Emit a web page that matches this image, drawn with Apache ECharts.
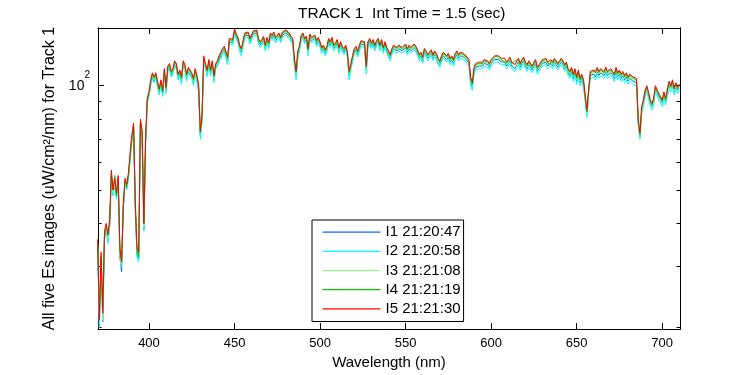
<!DOCTYPE html>
<html><head><meta charset="utf-8">
<script src="https://cdn.jsdelivr.net/npm/echarts@6/dist/echarts.min.js"></script>
<style>html,body{margin:0;padding:0;background:#fff}#c{width:750px;height:375px}</style>
</head><body><div id="c"></div>
<script>
// Wavelength grid: 370 nm .. 710 nm, 1 nm sampling
const wlStart = 370, wlStep = 1;
const seriesNames = ['I1 21:20:47','I2 21:20:58','I3 21:21:08','I4 21:21:19','I5 21:21:30'];
const seriesColors = ['#0070ff','#00ffff','#80ff80','#00cc00','#ff0000'];
const xTicks = [400,450,500,550,600,650,700];
const yMajorTicks = [100];
const yMinorTicks = [20,30,40,50,60,70,80,90];

const I5 = [36,21,33,22,38,40,37,41,57,50,
54,49,55,34,31,46,54,52,56,64,
72,78,46,34,33,80,74,40,70,92,
96,104,109,106,109,103,98,104,97,112,
99,114,116,110,112,118,116,108,111,106,
118,115,108,113,111,109,105,112,107,101,
74,82,122,116,111,119,111,118,107,116,
118,122,125,128,130,131,121,137,138,136,
146,141,138,131,128,135,142,141,143,137,
136,144,143,145,137,134,136,139,131,138,
133,142,140,143,138,140,142,138,143,144,
145,146,142,139,137,120,110,126,131,140,
142,137,139,128,141,138,137,140,135,138,
134,129,131,127,130,137,134,138,131,133,
136,129,134,130,128,131,125,110,116,122,
128,130,126,131,135,136,134,114,134,137,
133,136,131,135,137,131,136,129,134,129,
126,123,128,131,132,129,131,132,129,130,
132,128,131,129,128,132,130,127,123,125,
121,128,126,123,125,127,123,126,124,120,
118,122,125,126,122,124,120,122,119,124,
126,123,125,126,124,123,121,119,106,102,
113,116,115,117,118,117,119,120,118,116,
119,118,122,121,122,121,120,119,120,117,
119,121,117,118,115,118,120,116,119,121,
117,115,118,117,114,117,119,113,115,117,
119,118,120,117,116,119,117,120,119,116,
118,120,118,115,117,112,110,113,108,112,
106,111,105,108,104,103,85,98,110,109,
111,109,113,110,112,111,110,113,110,109,
112,110,108,113,109,111,108,110,107,109,
106,108,107,106,107,105,80,73,87,91,
97,100,96,91,89,92,100,99,95,93,
91,96,92,97,103,100,104,98,102,99,
101];

const I4 = [35,22,32,23,37,39,38,40,55,50,
55,48,54,33,31,45,53,51,55,63,
71,77,45,33,32,79,73,40,69,91,
95,103,108,105,108,102,97,103,96,111,
98,113,115,109,111,117,115,107,110,105,
117,114,107,112,110,108,104,111,106,100,
73,81,121,115,110,118,110,117,106,115,
117,121,124,127,129,130,120,136,137,135,
145,140,137,130,127,134,141,140,142,136,
135,143,142,144,136,133,135,138,130,137,
132,141,139,142,137,139,141,137,142,143,
144,145,141,138,136,119,109,125,130,139,
141,136,138,127,140,137,136,139,134,137,
133,128,130,126,129,136,133,137,130,132,
135,128,133,129,127,130,124,109,115,121,
127,129,125,130,134,135,133,113,133,136,
132,135,130,134,136,130,135,128,133,128,
125,122,127,130,131,128,130,131,128,129,
131,127,130,128,127,131,129,126,122,124,
120,128,125,122,124,126,122,125,123,119,
117,121,124,125,121,123,119,121,118,123,
125,122,124,125,123,122,120,118,105,101,
112,115,114,116,117,116,118,119,117,115,
118,117,121,120,122,120,119,118,119,116,
118,120,116,117,118,117,119,115,118,120,
116,114,117,116,113,116,118,112,114,116,
118,117,119,118,115,118,116,119,118,115,
117,119,117,114,116,111,109,112,107,111,
105,110,104,107,103,102,84,97,109,108,
110,110,112,109,111,110,109,113,109,108,
111,109,107,112,108,110,107,109,106,108,
105,107,106,105,106,104,79,72,86,90,
96,99,95,90,88,91,99,98,94,92,
90,95,91,98,102,99,103,99,101,98,
100];

const I3 = [35,21,32,21,37,39,36,40,56,49,
53,48,54,33,30,45,53,51,55,62.5,
70.5,76.5,45,33,32,78.5,72.5,39,68.5,90.5,
94.5,102,107,104,107,101,96.5,102,95.5,110,
97.5,112,114,108,110,116,114,106,109,104,
116,113,106,111,109,107,103,110,105,99,
72.5,80.5,120,114,109,117,109,116,105,114,
116,120,123,126,128,129,119,135,136,134,
144,139,136,129,126,133,140,139,141,135,
134,142,141,143,135,132,134,137,129,136,
131,140,138,141,136,138,140,136,141,142,
143,144,140,137,135,118,108,124,129,138,
140,135,137,126,139,136,135,138,133,136,
132,127,129,125,128,135,132,136,129,131,
134,127,132,128,126,129,123,108,114,120,
126,128,124,129,133,134,132,112,132,135,
131,134,129,133,135,129,134,127,132,127,
124,121,126,129,130,127,129,130,127,128,
130,126,129,127,126,130,128,125,121,123,
119,126,124,121,123,125,121,124,122,118,
116,120,123,124,120,122,118,120,117,122,
124,121,123,124,122,121,119,117,104,100,
111,114,113,115,116,115,117,118,116,114,
117,116,120,119,120,119,118,117,118,115,
117,119,115,116,113,116,118,114,117,119,
115,113,116,115,112,115,117,111,113,115,
117,116,118,115,114,117,115,118,117,114,
116,118,116,113,115,110,108,111,106,110,
104,109,103,106,102,101,83,96.5,108,107,
109,107,111,108,110,109,108,111,108,107,
110,108,106,111,107,109,106,108,105,107,
104,106,105,104,105,103,78.5,71.5,85.5,89.5,
95.5,98,94.5,89.5,87.5,90.5,98,97.5,93.5,91.5,
89.5,94.5,90.5,95.5,101,98,102,96.5,100,97.5,
99];

const I1 = [34.5,20.5,31.5,20.8,36.5,38.5,35.5,39.5,55.5,48.5,
52.5,47.5,53.5,32,29,44.5,52.5,50.5,54.5,62,
70,76,44.5,32.5,31.5,78,72,38.5,68,90,
94,101,106,103,106,100,96,101,95,109,
97,111,113,107,109,115,113,105,108,103,
115,112,105,110,108,106,102,109,104,98,
72,80,119,113,108,116,108,115,104,113,
115,119,122,125,127,128,118,134,135,133,
143,138,135,128,125,132,139,138,140,134,
133,141,140,142,134,131,133,136,128,135,
130,139,137,140,135,137,139,135,140,141,
142,143,139,136,134,117,107,123,128,137,
139,134,136,125,138,135,134,137,132,135,
131,126,128,124,127,134,131,135,128,130,
133,126,131,127,125,128,122,107,113,119,
125,127,123,128,132,133,131,111,131,134,
130,133,128,132,134,128,133,126,131,126,
123,120,125,128,129,126,128,129,126,127,
129,125,128,126,125,129,127,124,120,122,
118,125,123,120,122,124,120,123,121,117,
115,119,122,123,119,121,117,119,116,121,
123,120,122,123,121,120,118,116,103,99,
110,113,112,114,115,114,116,117,115,113,
116,115,119,118,119,118,117,116,117,114,
116,118,114,115,112,115,117,113,116,118,
114,112,115,114,111,114,116,110,112,114,
116,115,117,114,113,116,114,117,116,113,
115,117,115,112,114,109,107,110,105,109,
103,108,102,105,101,100,83,96,107,106,
108,106,110,107,109,108,107,110,107,106,
109,107,105,110,106,108,105,107,104,106,
103,105,104,103,104,102,78,71,85,89,
95,98,94,89,87,90,98,97,93,91,
89,94,90,95,100,98,101,96,99,97,
98];

const I2 = [34,20,31,21,36,38,35,39,55,48,
52,47,53,32,30,44,52,50,54,61,
69,75,44,32,31,77,71,38,67,89,
93,100,105,102,105,99,94,100,93,108,
95,110,112,106,108,114,112,104,107,101,
114,111,103,109,107,105,100,108,103,96,
70,78,117,112,106,115,107,114,102,112,
114,117,120,123,125,126,115,132,133,131,
141,136,133,126,122,130,137,136,138,132,
131,139,138,140,132,129,131,134,126,133,
128,137,135,138,133,135,137,133,138,139,
140,141,137,134,132,114,104,120,126,135,
137,132,134,122,136,133,132,135,130,133,
129,124,126,122,125,132,129,133,126,128,
131,124,129,125,123,126,120,104,111,117,
123,125,121,126,130,131,129,108,129,132,
128,131,126,130,132,126,131,124,129,124,
121,118,123,126,127,124,126,127,124,125,
127,123,126,124,123,127,125,122,118,120,
116,123,121,118,120,122,118,121,119,115,
113,117,120,121,117,119,115,117,114,119,
121,118,120,121,119,118,116,114,100,97,
108,111,110,112,113,112,114,115,113,111,
114,113,117,116,117,116,115,114,115,112,
114,116,112,113,110,113,115,111,114,116,
112,110,113,112,109,112,114,108,110,112,
114,113,115,112,111,114,112,115,114,111,
113,115,113,110,112,107,105,108,103,107,
101,106,100,103,99,98,81,94,105,104,
106,104,108,105,107,106,105,108,105,104,
107,105,103,108,104,106,103,105,102,104,
101,103,102,101,102,100,77,70,83,87,
93,96,92,87,85,88,96,95,91,89,
87,92,88,93,98,96,99,94,98,95,
97];

const seriesValues = [I1, I2, I3, I4, I5];
const toPairs = arr => arr.map((v, i) => [wlStart + i * wlStep, v]);

const FONT = '"Liberation Sans", Arial, Helvetica, sans-serif';
const X_MIN = 370.2, X_MAX = 710.4, Y_MIN = 19.8, Y_MAX = 146.8;

function xAx(pos, showLabel) {
  return {
    type: 'value', position: pos, min: X_MIN, max: X_MAX,
    name: showLabel ? 'Wavelength (nm)' : '', nameLocation: 'middle', nameGap: 22,
    nameTextStyle: {fontSize: 15, color: '#000', fontFamily: FONT},
    axisLine: {show: true, onZero: false, lineStyle: {color: '#000', width: 1}},
    axisTick: {show: true, inside: true, length: 6, customValues: xTicks, lineStyle: {color: '#000', width: 1}},
    axisLabel: {show: showLabel, customValues: xTicks, margin: 8, fontSize: 13, color: '#000', fontFamily: FONT},
    splitLine: {show: false}
  };
}
function yAx(pos, ticks, len, withLabel) {
  return {
    type: 'log', logBase: 10, position: pos, min: Y_MIN, max: Y_MAX,
    name: withLabel ? 'All five Es images (uW/cm\u00b2/nm) for Track 1' : '',
    nameLocation: 'middle', nameGap: 37, nameRotate: 90,
    nameTextStyle: {fontSize: 16, color: '#000', fontFamily: FONT},
    axisLine: {show: true, onZero: false, lineStyle: {color: '#000', width: 1}},
    axisTick: {show: true, inside: true, length: len, customValues: ticks, lineStyle: {color: '#000', width: 1}},
    axisLabel: {
      show: withLabel, customValues: ticks, margin: 8, color: '#000', fontFamily: FONT,
      formatter: () => '{a|10}{b|2}',
      rich: {a: {fontSize: 14, fontFamily: FONT, color: '#000'},
             b: {fontSize: 10, fontFamily: FONT, color: '#000', padding: [0, 0, 20, 0]}}
    },
    splitLine: {show: false}
  };
}

const chart = echarts.init(document.getElementById('c'), null, {renderer: 'canvas'});
chart.setOption({
  animation: false,
  backgroundColor: '#fff',
  title: {text: 'TRACK 1  Int Time = 1.5 (sec)', left: 298, top: 6, padding: 0,
    textStyle: {fontSize: 15.5, fontWeight: 'normal', color: '#000', fontFamily: FONT}},
  grid: {left: 98, right: 70, top: 28, bottom: 45, containLabel: false},
  legend: {
    orient: 'vertical', left: 312, top: 220, padding: [2.5, 3, 3, 10.5],
    itemGap: 0, itemWidth: 58, itemHeight: 1.2, icon: 'rect',
    borderColor: '#000', borderWidth: 1, backgroundColor: '#fff',
    textStyle: {fontSize: 15, color: '#000', fontFamily: FONT, lineHeight: 19.2},
    data: seriesNames
  },
  xAxis: [xAx('bottom', true), xAx('top', false)],
  yAxis: [yAx('left', yMajorTicks, 6, true), yAx('left', yMinorTicks, 3.5, false),
          yAx('right', yMajorTicks, 6, false), yAx('right', yMinorTicks, 3.5, false)],
  series: seriesValues.map((vals, k) => ({
    type: 'line', name: seriesNames[k], xAxisIndex: 0, yAxisIndex: 0,
    data: toPairs(vals), showSymbol: false, symbol: 'none', clip: true,
    lineStyle: {width: 1, color: seriesColors[k]}, itemStyle: {color: seriesColors[k]},
    emphasis: {disabled: true}
  }))
});
</script></body></html>
